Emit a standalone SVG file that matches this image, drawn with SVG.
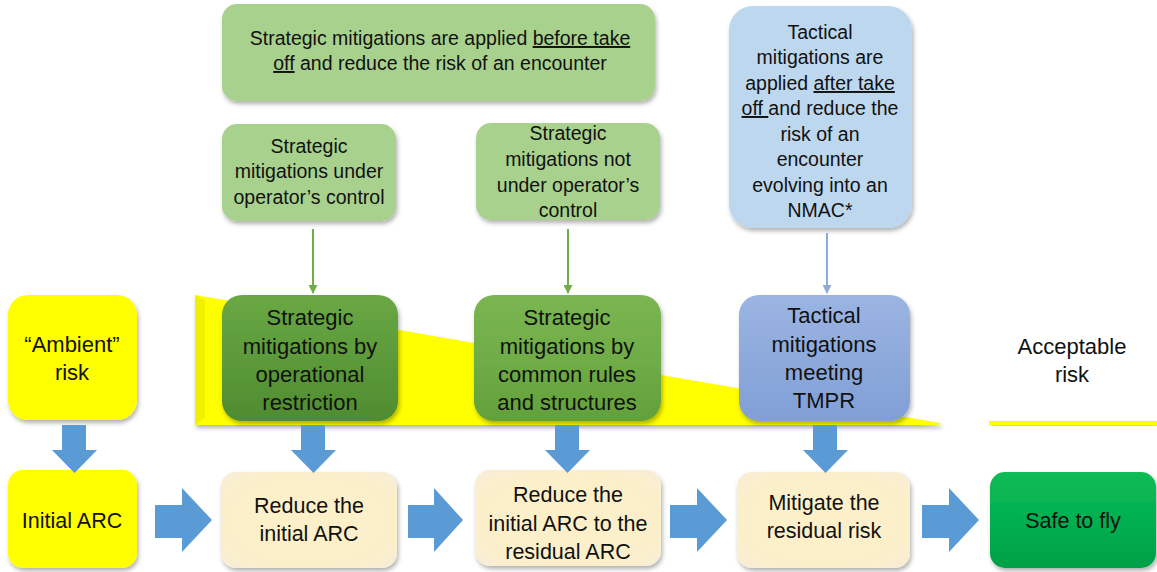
<svg xmlns="http://www.w3.org/2000/svg" width="1157" height="572" viewBox="0 0 1157 572">
<defs>
<style>
text{font-family:"Liberation Sans",Arial,sans-serif;fill:#111;text-anchor:middle}
.t1{font-size:19.5px}
.t2{font-size:22px}
.t3{font-size:21.5px}
.u{text-decoration:underline}
.bigarrow{fill:#5b9bd5}
</style>
<filter id="sh" x="-10%" y="-10%" width="125%" height="130%">
<feDropShadow dx="1.5" dy="3" stdDeviation="2" flood-color="#000" flood-opacity="0.3"/>
</filter>
<linearGradient id="gDark" x1="0" y1="0" x2="0" y2="1">
<stop offset="0" stop-color="#6aa845"/><stop offset="0.5" stop-color="#5c9a3a"/><stop offset="1" stop-color="#4f8c30"/>
</linearGradient>
<linearGradient id="gLight" x1="0" y1="0" x2="0" y2="1">
<stop offset="0" stop-color="#7ab552"/><stop offset="0.5" stop-color="#70ad47"/><stop offset="1" stop-color="#62a03a"/>
</linearGradient>
<linearGradient id="gBlue" x1="0" y1="0" x2="0" y2="1">
<stop offset="0" stop-color="#9bb5e2"/><stop offset="0.5" stop-color="#8eaadc"/><stop offset="1" stop-color="#819fd6"/>
</linearGradient>
<radialGradient id="gCream" cx="0.5" cy="0.5" r="0.7">
<stop offset="0" stop-color="#fdf0c8"/><stop offset="0.75" stop-color="#fbefcb"/><stop offset="1" stop-color="#f6edd8"/>
</radialGradient>
<linearGradient id="gSafe" x1="0" y1="0" x2="0" y2="1">
<stop offset="0" stop-color="#12bb55"/><stop offset="0.5" stop-color="#00b050"/><stop offset="1" stop-color="#00a047"/>
</linearGradient>
<marker id="mGreen" viewBox="0 0 10 10" refX="9" refY="5" markerWidth="9" markerHeight="9" markerUnits="userSpaceOnUse" orient="auto">
<path d="M0,0 L10,5 L0,10 Z" fill="#70ad47"/>
</marker>
<marker id="mBlue" viewBox="0 0 10 10" refX="9" refY="5" markerWidth="9" markerHeight="9" markerUnits="userSpaceOnUse" orient="auto">
<path d="M0,0 L10,5 L0,10 Z" fill="#8faadc"/>
</marker>
</defs>

<rect width="1157" height="572" fill="#ffffff"/>

<!-- yellow risk wedge -->
<g id="risk-wedge">
<polygon points="195,295 940,423 940,425 195,425" fill="#ffff00" filter="url(#sh)"/>
<polygon points="195,295 205,300 205,418 195,425" fill="#f0f000"/>
</g>

<!-- acceptable risk line -->
<g id="acceptable-line">
<rect x="989" y="421" width="168" height="4" fill="#ffff00" filter="url(#sh)"/>
</g>

<g id="top-strategic">
<rect x="222" y="4" width="433" height="97" rx="15" fill="#a9d18e" filter="url(#sh)"/>
<text class="t1"><tspan x="440" y="45">Strategic mitigations are applied <tspan class="u">before take</tspan></tspan><tspan x="440" y="70"><tspan class="u">off</tspan> and reduce the risk of an encounter</tspan></text>
</g>

<g id="strategic-under">
<rect x="222" y="124" width="174" height="97" rx="15" fill="#a9d18e" filter="url(#sh)"/>
<text class="t1"><tspan x="309" y="153">Strategic</tspan><tspan x="309" y="178">mitigations under</tspan><tspan x="309" y="204">operator’s control</tspan></text>
</g>

<g id="strategic-not-under">
<rect x="476" y="123" width="184" height="97" rx="15" fill="#a9d18e" filter="url(#sh)"/>
<text class="t1"><tspan x="568" y="140">Strategic</tspan><tspan x="568" y="166">mitigations not</tspan><tspan x="568" y="192">under operator’s</tspan><tspan x="568" y="217">control</tspan></text>
</g>

<g id="tactical-top">
<rect x="729" y="6" width="183" height="222" rx="24" fill="#bdd7ee" filter="url(#sh)"/>
<text class="t1"><tspan x="820" y="39">Tactical</tspan><tspan x="820" y="64">mitigations are</tspan><tspan x="820" y="90">applied <tspan class="u">after take</tspan></tspan><tspan x="820" y="115"><tspan class="u">off </tspan>and reduce the</tspan><tspan x="820" y="141">risk of an</tspan><tspan x="820" y="166">encounter</tspan><tspan x="820" y="192">evolving into an</tspan><tspan x="820" y="217">NMAC*</tspan></text>
</g>

<g id="ambient">
<rect x="8" y="295" width="129" height="125" rx="20" fill="#ffff00" filter="url(#sh)"/>
<text class="t2"><tspan x="72" y="352">“Ambient”</tspan><tspan x="72" y="380">risk</tspan></text>
</g>

<g id="op-restriction">
<rect x="222" y="295" width="176" height="126" rx="20" fill="url(#gDark)" filter="url(#sh)"/>
<text class="t2"><tspan x="310" y="325">Strategic</tspan><tspan x="310" y="354">mitigations by</tspan><tspan x="310" y="382">operational</tspan><tspan x="310" y="410">restriction</tspan></text>
</g>

<g id="common-rules">
<rect x="474" y="295" width="187" height="126" rx="20" fill="url(#gLight)" filter="url(#sh)"/>
<text class="t2"><tspan x="567" y="325">Strategic</tspan><tspan x="567" y="354">mitigations by</tspan><tspan x="567" y="382">common rules</tspan><tspan x="567" y="410">and structures</tspan></text>
</g>

<g id="tmpr">
<rect x="739" y="295" width="171" height="126" rx="20" fill="url(#gBlue)" filter="url(#sh)"/>
<text class="t2"><tspan x="824" y="323">Tactical</tspan><tspan x="824" y="352">mitigations</tspan><tspan x="824" y="380">meeting</tspan><tspan x="824" y="408">TMPR</tspan></text>
</g>

<g id="acceptable-risk">
<text class="t2"><tspan x="1072" y="354">Acceptable</tspan><tspan x="1072" y="382">risk</tspan></text>
</g>

<g id="initial-arc">
<rect x="8" y="470" width="129" height="98" rx="15" fill="#ffff00" filter="url(#sh)"/>
<text class="t3" x="72" y="528">Initial ARC</text>
</g>

<g id="reduce-initial">
<rect x="221" y="472" width="176" height="96" rx="15" fill="url(#gCream)" filter="url(#sh)"/>
<text class="t3"><tspan x="309" y="513">Reduce the</tspan><tspan x="309" y="541">initial ARC</tspan></text>
</g>

<g id="reduce-residual">
<rect x="475" y="470" width="186" height="96" rx="15" fill="url(#gCream)" filter="url(#sh)"/>
<text class="t3"><tspan x="568" y="502">Reduce the</tspan><tspan x="568" y="531">initial ARC to the</tspan><tspan x="568" y="559">residual ARC</tspan></text>
</g>

<g id="mitigate">
<rect x="737" y="472" width="173" height="96" rx="15" fill="url(#gCream)" filter="url(#sh)"/>
<text class="t3"><tspan x="824" y="510">Mitigate the</tspan><tspan x="824" y="538">residual risk</tspan></text>
</g>

<g id="safe">
<rect x="990" y="472" width="166" height="96" rx="15" fill="url(#gSafe)" filter="url(#sh)"/>
<text class="t3" x="1073" y="528">Safe to fly</text>
</g>

<g id="connectors">
<line x1="313" y1="229" x2="313" y2="293" stroke="#70ad47" stroke-width="2" marker-end="url(#mGreen)"/>
<line x1="568" y1="229" x2="568" y2="293" stroke="#70ad47" stroke-width="2" marker-end="url(#mGreen)"/>
<line x1="827" y1="233" x2="827" y2="293" stroke="#8faadc" stroke-width="2" marker-end="url(#mBlue)"/>

<path class="bigarrow" d="M62,425 H86 V450 H97 L74.5,473 L52,450 H62 Z"/>
<path class="bigarrow" d="M301,425 H325 V450 H336 L313.5,473 L291,450 H301 Z"/>
<path class="bigarrow" d="M555,425 H579 V450 H590 L567.5,473 L545,450 H555 Z"/>
<path class="bigarrow" d="M813,425 H837 V450 H848 L825.5,473 L803,450 H813 Z"/>

<path class="bigarrow" d="M155,505 H182 V488 L212,520 L182,552 V538 H155 Z"/>
<path class="bigarrow" d="M408,505 H434 V488 L463,520 L434,552 V538 H408 Z"/>
<path class="bigarrow" d="M670,505 H697 V488 L727,520 L697,552 V538 H670 Z"/>
<path class="bigarrow" d="M922,505 H949 V488 L979,520 L949,552 V538 H922 Z"/>
</g>
</svg>
